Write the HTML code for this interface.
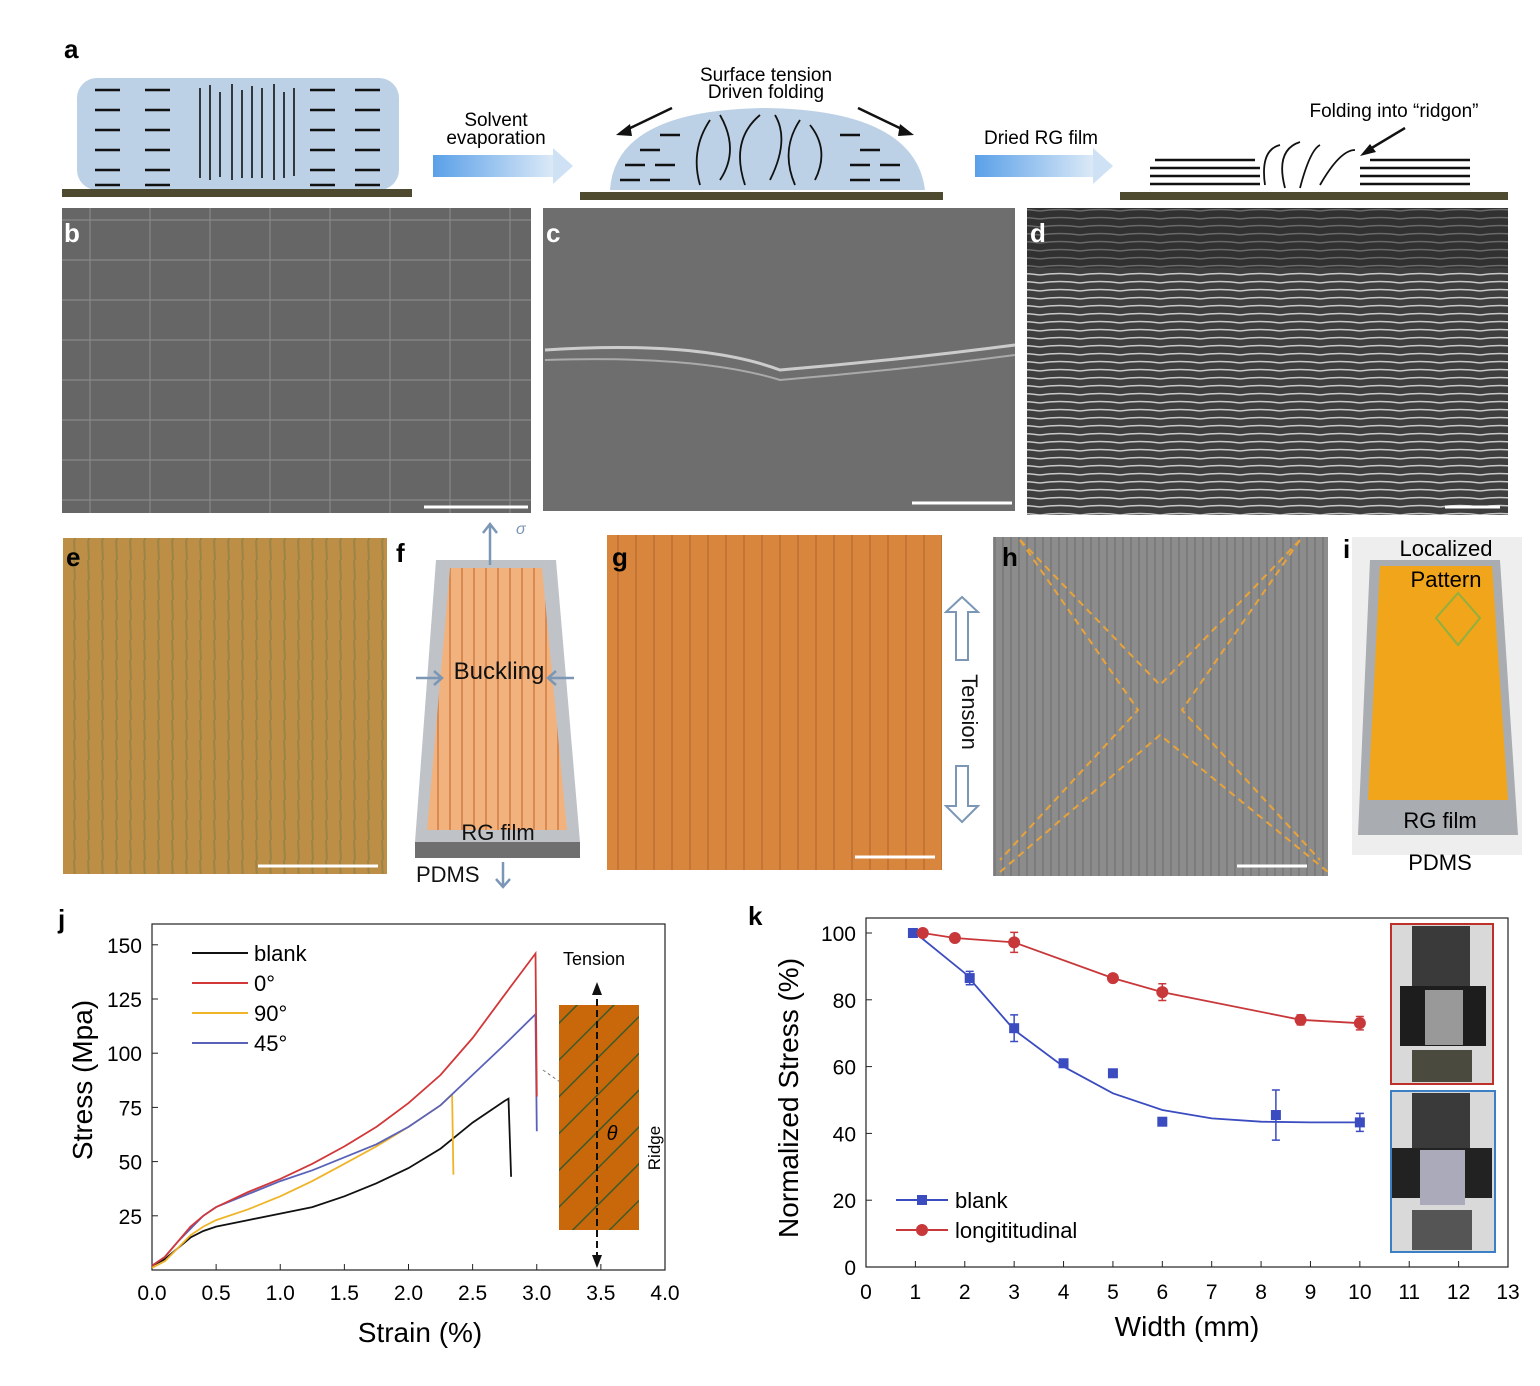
<!DOCTYPE html>
<html><head><meta charset="utf-8"><style>
html,body{margin:0;padding:0;background:#fff}
svg{display:block;font-family:"Liberation Sans",sans-serif}
</style></head><body>
<svg id="fig" width="1540" height="1386" viewBox="0 0 1540 1386">
<defs>
<linearGradient id="arr" x1="0" x2="1"><stop offset="0" stop-color="#5aa0e8"/><stop offset="1" stop-color="#dbe9f7"/></linearGradient>
<pattern id="semb" width="60" height="40" patternUnits="userSpaceOnUse"><rect width="60" height="40" fill="#6c6c6c"/><path d="M0 20 H60 M30 0 V40" stroke="#9a9a9a" stroke-width="1.2" fill="none"/></pattern>
<pattern id="semd" width="40" height="8" patternUnits="userSpaceOnUse"><rect width="40" height="8" fill="#3e3e3e"/><path d="M0 3 Q20 0 40 3" stroke="#c8c8c8" stroke-width="1.5" fill="none"/></pattern>
<pattern id="stre" width="14" height="20" patternUnits="userSpaceOnUse"><rect width="14" height="20" fill="#b98a45"/><line x1="4" y1="0" x2="5" y2="20" stroke="#7d7a45" stroke-width="2"/></pattern>
<pattern id="strg" width="18" height="30" patternUnits="userSpaceOnUse"><rect width="18" height="30" fill="#d4803a"/><line x1="6" y1="0" x2="6" y2="30" stroke="#a85a26" stroke-width="1.5"/></pattern>
<pattern id="strh" width="8" height="20" patternUnits="userSpaceOnUse"><rect width="8" height="20" fill="#8c8c8c"/><line x1="3" y1="0" x2="3" y2="20" stroke="#777" stroke-width="1.5"/></pattern>
<pattern id="strf" width="12" height="20" patternUnits="userSpaceOnUse"><rect width="12" height="20" fill="#f2b27d"/><line x1="6" y1="0" x2="6" y2="20" stroke="#d88a52" stroke-width="2"/></pattern>
<pattern id="hatch" width="26" height="26" patternUnits="userSpaceOnUse" patternTransform="rotate(45)"><rect width="26" height="26" fill="#c9680a"/><line x1="0" y1="0" x2="0" y2="26" stroke="#3d5a2a" stroke-width="3"/></pattern>
</defs>

<!-- panel a -->
<g>
<text x="64" y="58" font-size="26" font-weight="bold">a</text>
<rect x="77" y="78" width="322" height="112" rx="20" fill="#bcd1e6"/>
<g stroke="#111" stroke-width="2.5">
<path d="M95 90h25M145 90h25M95 110h25M145 110h25M95 130h25M145 130h25M95 150h25M145 150h25M95 170h25M145 170h25M95 185h25M145 185h25M310 90h25M355 90h25M310 110h25M355 110h25M310 130h25M355 130h25M310 150h25M355 150h25M310 170h25M355 170h25M310 185h25M355 185h25"/>
<path d="M200 88v90M210 85v95M220 92v85M232 84v96M242 90v88M252 86v92M262 88v90M274 84v96M284 92v86M294 88v88" stroke-width="1.6"/>
</g>
<rect x="62" y="189" width="350" height="8" fill="#4e4a2f"/>
<rect x="433" y="155" width="120" height="22" fill="url(#arr)"/><polygon points="553,148 573,166 553,184" fill="#cfe2f5"/>
<text x="496" y="126" font-size="19" text-anchor="middle">Solvent</text>
<text x="496" y="144" font-size="19" text-anchor="middle">evaporation</text>
<path d="M610 190 Q615 110 765 108 Q915 110 925 190Z" fill="#bcd1e6"/>
<g stroke="#111" stroke-width="2.5" fill="none">
<path d="M620 180h20M650 180h20M850 180h20M880 180h20M625 165h20M655 165h20M850 165h20M880 165h20M640 150h20M860 150h20M660 135h20M840 135h20"/>
<path d="M700 185 Q690 150 710 120 M720 180 Q740 150 720 115 M745 185 Q730 140 760 115 M770 180 Q790 140 775 115 M795 185 Q780 150 800 120 M815 180 Q830 150 810 125" stroke-width="1.8"/>
</g>
<rect x="580" y="192" width="363" height="8" fill="#4e4a2f"/>
<text x="766" y="81" font-size="19" text-anchor="middle">Surface tension</text>
<text x="766" y="98" font-size="19" text-anchor="middle">Driven folding</text>
<path d="M672 108 L622 132 M858 108 L908 132" stroke="#111" stroke-width="2.5"/>
<polygon points="616,135 630,124 632,136" fill="#111"/><polygon points="914,135 900,124 898,136" fill="#111"/>
<rect x="975" y="155" width="118" height="22" fill="url(#arr)"/><polygon points="1093,148 1113,166 1093,184" fill="#cfe2f5"/>
<text x="1041" y="144" font-size="19" text-anchor="middle">Dried RG film</text>
<g stroke="#111" stroke-width="2.5" fill="none">
<path d="M1150 168h110M1150 176h110M1150 184h110M1360 168h110M1360 176h110M1360 184h110M1155 160h100M1370 160h100"/>
<path d="M1265 185 Q1260 150 1280 145 M1285 188 Q1275 150 1300 142 M1300 188 Q1310 150 1320 145 M1320 185 Q1340 150 1355 150" stroke-width="1.8"/>
</g>
<rect x="1120" y="192" width="388" height="8" fill="#4e4a2f"/>
<text x="1394" y="117" font-size="19" text-anchor="middle">Folding into “ridgon”</text>
<path d="M1405 128 L1365 152" stroke="#111" stroke-width="2.5"/><polygon points="1360,156 1370,144 1376,152" fill="#111"/>
</g>

<!-- b c d -->
<g><rect x="62" y="208" width="469" height="305" fill="url(#semb)"/><rect x="62" y="208" width="469" height="305" fill="#555" opacity="0.25"/><line x1="424" y1="507" x2="528" y2="507" stroke="#fff" stroke-width="3"/><text x="64" y="242" font-size="26" font-weight="bold" fill="#fff">b</text></g>
<g><rect x="543" y="208" width="472" height="303" fill="#6e6e6e"/><path d="M545 350 Q700 340 780 370 Q900 360 1015 345" stroke="#ccc" stroke-width="3" fill="none"/><path d="M545 360 Q700 355 780 380 Q900 370 1015 355" stroke="#aaa" stroke-width="2" fill="none"/><line x1="912" y1="503" x2="1012" y2="503" stroke="#fff" stroke-width="3"/><text x="546" y="242" font-size="26" font-weight="bold" fill="#fff">c</text></g>
<g><rect x="1027" y="208" width="481" height="307" fill="url(#semd)"/><rect x="1027" y="208" width="481" height="60" fill="#2a2a2a" opacity="0.6"/><line x1="1445" y1="507" x2="1500" y2="507" stroke="#fff" stroke-width="3"/><text x="1030" y="242" font-size="26" font-weight="bold" fill="#fff">d</text></g>

<!-- e f g h i -->
<g><rect x="63" y="538" width="324" height="336" fill="url(#stre)"/><rect x="63" y="538" width="324" height="336" fill="#c09248" opacity="0.45"/><line x1="258" y1="866" x2="378" y2="866" stroke="#fff" stroke-width="3"/><text x="66" y="566" font-size="26" font-weight="bold">e</text></g>
<g>
<text x="396" y="562" font-size="26" font-weight="bold">f</text>
<polygon points="415,842 580,842 580,858 415,858" fill="#6f6f6f"/>
<polygon points="436,560 556,560 580,842 415,842" fill="#bfc3c8"/>
<polygon points="450,568 542,568 567,830 427,830" fill="url(#strf)"/>
<text x="499" y="679" font-size="24" text-anchor="middle" fill="#111">Buckling</text>
<text x="498" y="840" font-size="22" text-anchor="middle" fill="#111">RG film</text>
<text x="416" y="882" font-size="22" fill="#111">PDMS</text>
<g stroke="#7b97b5" stroke-width="2.5" fill="none"><path d="M490 565V525M483 533l7-9 7 9M416 678h25M434 671l8 7-8 7M574 678h-25M556 671l-8 7 8 7M503 862v25M496 879l7 8 7-8"/></g>
<text x="516" y="534" font-size="16" font-style="italic" fill="#7b97b5">σ</text>
</g>
<g><rect x="607" y="535" width="335" height="335" fill="url(#strg)"/><rect x="607" y="535" width="335" height="335" fill="#de8c44" opacity="0.4"/><line x1="855" y1="857" x2="935" y2="857" stroke="#fff" stroke-width="3"/><text x="612" y="566" font-size="26" font-weight="bold">g</text></g>
<g fill="#fff" stroke="#7b97b5" stroke-width="2"><polygon points="962,597 978,612 968,612 968,660 956,660 956,612 946,612"/><polygon points="962,822 978,806 968,806 968,766 956,766 956,806 946,806"/><text x="962" y="712" font-size="22" fill="#111" stroke="none" text-anchor="middle" transform="rotate(90 962 712)">Tension</text></g>
<g><rect x="993" y="537" width="335" height="339" fill="url(#strh)"/><g stroke="#e8a33a" stroke-width="2" stroke-dasharray="7,5" fill="none"><path d="M1020 540 L1160 685 L1300 540M1000 872 L1160 735 L1328 872M1020 540 L1138 710 L1000 860M1300 540 L1182 710 L1320 860"/></g><line x1="1237" y1="866" x2="1307" y2="866" stroke="#fff" stroke-width="3"/><text x="1002" y="566" font-size="26" font-weight="bold">h</text></g>
<g><rect x="1352" y="537" width="170" height="318" fill="#eeeeee"/><polygon points="1370,560 1500,560 1518,835 1358,835" fill="#a9acb0"/><polygon points="1380,566 1492,566 1508,800 1368,800" fill="#f1a51a"/><polygon points="1458,593 1480,618 1458,645 1436,618" fill="none" stroke="#90b040" stroke-width="2"/><text x="1343" y="558" font-size="26" font-weight="bold">i</text><text x="1446" y="556" font-size="22" text-anchor="middle">Localized</text><text x="1446" y="587" font-size="22" text-anchor="middle">Pattern</text><text x="1440" y="828" font-size="22" text-anchor="middle">RG film</text><text x="1440" y="870" font-size="22" text-anchor="middle">PDMS</text></g>

<!-- chart j -->
<g id="cj">
<text x="58" y="928" font-size="26" font-weight="bold">j</text>
<rect x="152" y="924" width="513" height="346" fill="none" stroke="#222" stroke-width="1.2"/>
<text x="420" y="1342" font-size="28" text-anchor="middle">Strain (%)</text>
<text x="92" y="1080" font-size="28" text-anchor="middle" transform="rotate(-90 92 1080)">Stress (Mpa)</text>
<g><rect x="559" y="1005" width="80" height="225" fill="url(#hatch)"/><line x1="597" y1="988" x2="597" y2="1262" stroke="#111" stroke-width="2" stroke-dasharray="7,4"/><polygon points="597,982 592,995 602,995" fill="#111"/><polygon points="597,1268 592,1255 602,1255" fill="#111"/><text x="594" y="965" font-size="18" text-anchor="middle">Tension</text><text x="612" y="1140" font-size="20" font-style="italic" text-anchor="middle">θ</text><text x="660" y="1148" font-size="17" text-anchor="middle" transform="rotate(-90 660 1148)">Ridge</text><line x1="543" y1="1070" x2="560" y2="1082" stroke="#777" stroke-dasharray="3,3"/></g>
</g>

<!-- chart k -->
<g id="ck">
<text x="748" y="925" font-size="26" font-weight="bold">k</text>
<rect x="866" y="918" width="642" height="349" fill="none" stroke="#222" stroke-width="1.2"/>
<text x="1187" y="1336" font-size="28" text-anchor="middle">Width (mm)</text>
<text x="798" y="1098" font-size="28" text-anchor="middle" transform="rotate(-90 798 1098)">Normalized Stress (%)</text>
<g><rect x="1391" y="924" width="102" height="160" fill="#d9d9d9" stroke="#c0302a" stroke-width="2"/><rect x="1412" y="926" width="58" height="60" fill="#3a3a3a"/><rect x="1400" y="986" width="86" height="60" fill="#1d1d1d"/><rect x="1425" y="990" width="38" height="55" fill="#999"/><rect x="1412" y="1050" width="60" height="32" fill="#4a4a3e"/><rect x="1391" y="1091" width="104" height="161" fill="#d9d9d9" stroke="#3b7fc4" stroke-width="2"/><rect x="1412" y="1093" width="58" height="60" fill="#3a3a3a"/><rect x="1392" y="1148" width="100" height="50" fill="#222"/><rect x="1420" y="1150" width="45" height="55" fill="#aab"/><rect x="1412" y="1210" width="60" height="40" fill="#555"/></g>
</g>
</svg>
<script>
// ---- chart j data
var jBlankX=[0,0.1,0.2,0.3,0.4,0.5,0.75,1.0,1.25,1.5,1.75,2.0,2.25,2.5,2.75,2.78,2.8];
var jBlankY=[2,5,10,15,18,20,23,26,29,34,40,47,56,68,78,79,43];
var j0X=[0,0.1,0.2,0.3,0.4,0.5,0.75,1.0,1.25,1.5,1.75,2.0,2.25,2.5,2.75,2.99,3.0];
var j0Y=[2,6,13,20,25,29,36,42,49,57,66,77,90,107,127,146,80];
var j90X=[0,0.1,0.2,0.3,0.4,0.5,0.75,1.0,1.25,1.5,1.75,2.0,2.25,2.34,2.35];
var j90Y=[1,4,10,16,20,23,28,34,41,49,57,66,76,81,44];
var j45X=[0,0.1,0.2,0.3,0.4,0.5,0.75,1.0,1.25,1.5,1.75,2.0,2.25,2.5,2.75,2.99,3.0];
var j45Y=[2,6,13,19,25,29,35,41,46,52,58,66,76,90,104,118,64];
var jXTicks=["0.0","0.5","1.0","1.5","2.0","2.5","3.0","3.5","4.0"];
var jYTicks=["25","50","75","100","125","150"];
// ---- chart k data
var kBlankX=[0.95,2.1,3,4,5,6,8.3,10];
var kBlankY=[100,86.5,71.5,61,58,43.5,45.5,43.3];
var kBlankErr=[1,2,4,1,1,1,7.5,2.7];
var kFitX=[1,2,3,4,5,6,7,8,9,10];
var kFitY=[100,88,71,60,52,47,44.5,43.5,43.3,43.3];
var kLongX=[1.15,1.8,3,5,6,8.8,10];
var kLongY=[100,98.5,97.2,86.5,82.3,74,73];
var kLongErr=[1,1,3,1,2.5,1.5,2];
var kXTicks=["0","1","2","3","4","5","6","7","8","9","10","11","12","13"];
var kYTicks=["0","20","40","60","80","100"];

var NS="http://www.w3.org/2000/svg";
function mk(p,t,a){var e=document.createElementNS(NS,t);for(var k in a)e.setAttribute(k,a[k]);p.appendChild(e);return e;}
var cj=document.getElementById('cj'),ck=document.getElementById('ck');
function jx(v){return 152+v*(513/4);}
function jy(v){return 1270-v*(54.2/25);}
function kx(v){return 866+v*(642/13);}
function ky(v){return 1267-v*3.34;}

// j axes
jXTicks.forEach(function(t){var v=parseFloat(t);
 var l=mk(cj,'line',{x1:jx(v),x2:jx(v),y1:1270,y2:1264,stroke:'#222'});
 
 var tx=mk(cj,'text',{x:jx(v),y:1300,'font-size':21,'text-anchor':'middle'});tx.textContent=t;
 });
jYTicks.forEach(function(t){var v=parseFloat(t);
 var l=mk(cj,'line',{x1:152,x2:158,y1:jy(v),y2:jy(v),stroke:'#222'});
 
 var tx=mk(cj,'text',{x:142,y:jy(v)+8,'font-size':21,'text-anchor':'end'});tx.textContent=t;
 });
function jline(xs,ys,c,n){var d=xs.map(function(x,i){return (i?'L':'M')+jx(x).toFixed(1)+' '+jy(ys[i]).toFixed(1);}).join('');
 var p=mk(cj,'path',{d:d,fill:'none',stroke:c,'stroke-width':1.8});
 }
jline(jBlankX,jBlankY,'#111','line-blank');
jline(j90X,j90Y,'#f0b428','line-90deg');
jline(j45X,j45Y,'#5a62b8','line-45deg');
jline(j0X,j0Y,'#d2383a','line-0deg');
[['blank','#111'],['0°','#d2383a'],['90°','#f0b428'],['45°','#5a62b8']].forEach(function(e,i){
 var y=953+i*30;
 var l=mk(cj,'line',{x1:192,x2:248,y1:y,y2:y,stroke:e[1],'stroke-width':2});
 
 var t=mk(cj,'text',{x:254,y:y+8,'font-size':22});t.textContent=e[0];
 });

// k axes
kXTicks.forEach(function(t){var v=parseFloat(t);
 var l=mk(ck,'line',{x1:kx(v),x2:kx(v),y1:1267,y2:1261,stroke:'#222'});
 
 var tx=mk(ck,'text',{x:kx(v),y:1299,'font-size':21,'text-anchor':'middle'});tx.textContent=t;
 });
kYTicks.forEach(function(t){var v=parseFloat(t);
 var l=mk(ck,'line',{x1:866,x2:872,y1:ky(v),y2:ky(v),stroke:'#222'});
 
 var tx=mk(ck,'text',{x:856,y:ky(v)+8,'font-size':21,'text-anchor':'end'});tx.textContent=t;
 });
function kpath(xs,ys,c,n){var d=xs.map(function(x,i){return (i?'L':'M')+kx(x).toFixed(1)+' '+ky(ys[i]).toFixed(1);}).join('');
 var p=mk(ck,'path',{d:d,fill:'none',stroke:c,'stroke-width':1.8});
 }
kpath(kFitX,kFitY,'#3b4cc0','fit-line-blank');
kpath(kLongX,kLongY,'#c8383a','line-longitudinal');
function errs(xs,ys,es,c,n){xs.forEach(function(x,i){
 var p=mk(ck,'path',{d:'M'+kx(x)+' '+ky(ys[i]-es[i])+'V'+ky(ys[i]+es[i])+'M'+(kx(x)-4)+' '+ky(ys[i]-es[i])+'h8M'+(kx(x)-4)+' '+ky(ys[i]+es[i])+'h8',stroke:c,'stroke-width':1.5,fill:'none'});
 });}
errs(kBlankX,kBlankY,kBlankErr,'#3b4cc0','error-bar-blank');
errs(kLongX,kLongY,kLongErr,'#c8383a','error-bar-longitudinal');
kBlankX.forEach(function(x,i){var r=mk(ck,'rect',{x:kx(x)-5,y:ky(kBlankY[i])-5,width:10,height:10,fill:'#3b4cc0'});
 });
kLongX.forEach(function(x,i){var c=mk(ck,'circle',{cx:kx(x),cy:ky(kLongY[i]),r:6,fill:'#c8383a'});
 });
var lg1=mk(ck,'line',{x1:896,x2:948,y1:1200,y2:1200,stroke:'#3b4cc0','stroke-width':2});

var lm1=mk(ck,'rect',{x:917,y:1195,width:10,height:10,fill:'#3b4cc0'});

var lt1=mk(ck,'text',{x:955,y:1208,'font-size':22});lt1.textContent='blank';

var lg2=mk(ck,'line',{x1:896,x2:948,y1:1230,y2:1230,stroke:'#c8383a','stroke-width':2});

var lm2=mk(ck,'circle',{cx:922,cy:1230,r:6,fill:'#c8383a'});

var lt2=mk(ck,'text',{x:955,y:1238,'font-size':22});lt2.textContent='longititudinal';

</script>
</body></html>
